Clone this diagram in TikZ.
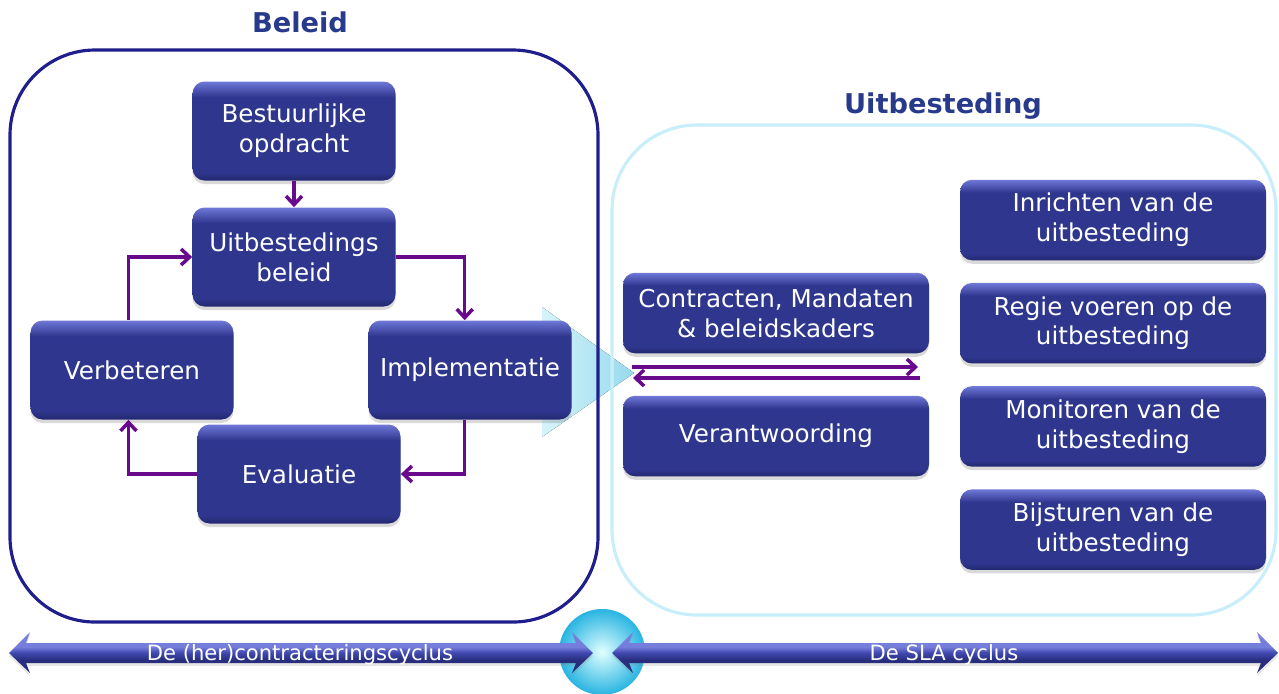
\documentclass[tikz,border=0pt]{standalone}
\usepackage{fontspec}
\setmainfont{DejaVu Sans}
\usetikzlibrary{arrows.meta, positioning, calc, shadows}

\definecolor{knoplicht}{RGB}{112,120,216}
\definecolor{knopmidden}{RGB}{46,54,142}
\definecolor{knopdonker}{RGB}{34,40,110}
\definecolor{kaderblauw}{RGB}{30,30,140}
\definecolor{kadercyaan}{RGB}{200,238,250}
\definecolor{paars}{RGB}{104,10,140}
\definecolor{titelblauw}{RGB}{40,58,140}
\definecolor{drielicht}{RGB}{214,244,250}
\definecolor{driecyaan}{RGB}{150,218,236}
\definecolor{bolcyaan}{RGB}{40,180,225}
\definecolor{balklicht}{RGB}{118,126,220}
\definecolor{balkmidden}{RGB}{66,74,178}
\definecolor{balkdonker}{RGB}{40,46,124}

% bevelled look of the boxes (path box runs from 25bp to 75bp)
\pgfdeclareverticalshading{knop}{100bp}{color(0bp)=(knopdonker); color(25bp)=(knopdonker);
  color(29bp)=(knopmidden); color(67bp)=(knopmidden); color(75bp)=(knoplicht); color(100bp)=(knoplicht)}
\pgfdeclareverticalshading{balk}{100bp}{color(0bp)=(balkdonker); color(41bp)=(balkdonker);
  color(50bp)=(balkmidden); color(57bp)=(balklicht); color(100bp)=(balklicht)}

\begin{document}
\begin{tikzpicture}[
    x=0.2mm, y=-0.2mm,
    >={Straight Barb[length=1.7mm, width=3.2mm]},
    stap/.style={rounded corners=0.24cm, shade, shading=knop, text=white, align=center,
        font=\fontsize{14}{17}\selectfont, minimum width=4.06cm, minimum height=1.98cm, inner sep=2pt,
        drop shadow={shadow xshift=0pt, shadow yshift=-0.07cm, opacity=0.3}},
    taak/.style={stap, minimum width=6.12cm, minimum height=1.61cm},
    kader/.style={rounded corners=1.7cm, line width=1.8pt},
    titel/.style={font=\fontsize{15.5}{18}\selectfont\bfseries, text=titelblauw},
    pijl/.style={->, paars, line width=2pt},
    balklabel/.style={text=white, font=\fontsize{12}{14}\selectfont}
]
    \useasboundingbox (0,0) rectangle (1279,693);

    % === Big arrow from Beleid to Uitbesteding ===
    \coordinate (driehoekboven) at (542,307);
    \coordinate (driehoekonder) at (542,437);
    \coordinate (driehoekpunt) at (634,373);
    \fill[left color=drielicht, right color=driecyaan]
        (driehoekboven) -- (driehoekpunt) -- (driehoekonder) -- cycle;

    % === Frames and titles ===
    \draw[kader, kaderblauw] (10,50) rectangle (598,622);
    \draw[kader, kadercyaan] (612,125) rectangle (1276,615);
    \node[titel] (beleidtitel) at (300,22) {Beleid};
    \node[titel] (uittitel) at (943,106) {Uitbesteding};

    % === Beleid cycle ===
    \node[stap] (bestuur) at (294,131) {Bestuurlijke\\opdracht};
    \node[stap] (beleid) at (294,257) {Uitbestedings\\beleid};
    \node[stap] (verbeter) at (132,370) {Verbeteren};
    \node[stap] (implement) at (470,370) {Implementatie};
    \node[stap] (evaluatie) at (299,474) {Evaluatie};

    \draw[pijl] (bestuur) -- (beleid);
    \draw[pijl] (beleid.east) -| ([xshift=-3pt]implement.north);
    \draw[pijl] ([xshift=-3pt]implement.south) |- (evaluatie.east);
    \draw[pijl] (evaluatie.west) -| ([xshift=-2pt]verbeter.south);
    \draw[pijl] ([xshift=-2pt]verbeter.north) |- (beleid.west);

    % === Uitbesteding ===
    \node[taak] (contract) at (776,313) {Contracten, Mandaten\\\& beleidskaders};
    \node[taak] (verantw) at (776,436) {Verantwoording};

    \node[taak] (inricht) at (1113,220) {Inrichten van de\\uitbesteding};
    \node[taak, below=0.44cm of inricht] (regie) {Regie voeren op de\\uitbesteding};
    \node[taak, below=0.44cm of regie] (monitor) {Monitoren van de\\uitbesteding};
    \node[taak, below=0.44cm of monitor] (bijstuur) {Bijsturen van de\\uitbesteding};

    % two way traffic between the boxes
    \coordinate (heenstart) at (632,367);
    \coordinate (heeneind) at (918,367);
    \coordinate (terugstart) at (920,378);
    \coordinate (terugeind) at (633,378);
    \draw[pijl] (heenstart) -- (heeneind);
    \draw[pijl] (terugstart) -- (terugeind);

    % === Bottom: the two cycles ===
    \shade[inner color=cyan!12, outer color=bolcyaan] (602,652) circle[radius=0.86cm];

    \shade[shading=balk, drop shadow={shadow xshift=0pt, shadow yshift=-0.06cm, opacity=0.2}]
        (9,653) -- (30,632) -- (26,643) -- (576,643) -- (572,632) -- (593,653)
        -- (572,673) -- (576,663) -- (26,663) -- (30,673) -- cycle;
    \shade[shading=balk, drop shadow={shadow xshift=0pt, shadow yshift=-0.06cm, opacity=0.2}]
        (612,653) -- (633,632) -- (629,643) -- (1261,643) -- (1257,632) -- (1278,653)
        -- (1257,673) -- (1261,663) -- (629,663) -- (633,673) -- cycle;

    \node[balklabel] (hercontract) at (300,655) {De (her)contracteringscyclus};
    \node[balklabel] (slacyclus) at (944,655) {De SLA cyclus};

\end{tikzpicture}
\end{document}
